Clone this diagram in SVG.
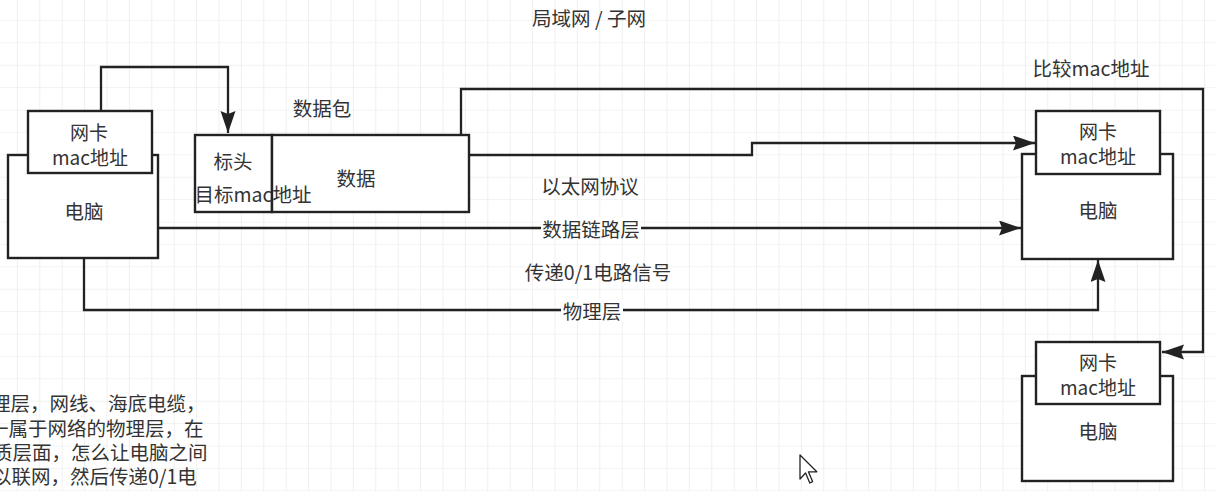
<svg xmlns="http://www.w3.org/2000/svg" width="1215" height="491" viewBox="0 0 1215 491">
<style>
.t{font-family:"Noto Sans CJK SC","Noto Sans",sans-serif;font-size:19.5px;fill:#333;text-anchor:middle;dominant-baseline:central}
.n{font-size:19px}
.tl{font-family:"Noto Sans CJK SC","Noto Sans",sans-serif;font-size:19.5px;fill:#333;dominant-baseline:central}
.box{fill:#fff;stroke:#222;stroke-width:2.4}
.ln{fill:none;stroke:#222;stroke-width:2.3}
</style>
<defs>
<pattern id="grid" x="16.9" y="19.9" width="22.4" height="22.4" patternUnits="userSpaceOnUse">
<path d="M0 0H22.4M0 0V22.4" stroke="#e6e6e6" stroke-width="1.2" fill="none"/>
</pattern>
<marker id="arr" markerUnits="userSpaceOnUse" markerWidth="24" markerHeight="16" refX="22" refY="7.5" orient="auto">
<path d="M0 0L22 7.5L0 15L3 7.5Z" fill="#222"/>
</marker>
</defs>
<rect width="1215" height="491" fill="#fff"/>
<rect width="1215" height="491" fill="url(#grid)"/>

<g id="connectors">
<path class="ln" d="M101 111V67H228V133" marker-end="url(#arr)"/>
<path class="ln" d="M461 135V89H1203V352H1162" marker-end="url(#arr)"/>
<path class="ln" d="M469 155H752V143H1035" marker-end="url(#arr)"/>
<path class="ln" d="M158 228H1021" marker-end="url(#arr)"/>
<path class="ln" d="M84 258V310H1098V260" marker-end="url(#arr)"/>
</g>

<g id="title"><text class="t" x="589" y="17">局域网 / 子网</text></g>

<g id="computer1">
<rect class="box" x="8" y="155" width="150" height="103"/>
<rect class="box" x="28" y="111" width="124" height="62"/>
<text class="t n" x="89" y="131">网卡</text>
<text class="t n" x="90" y="156">mac地址</text>
<text class="t" x="84" y="210">电脑</text>
</g>

<g id="packet">
<text class="t" x="322" y="107">数据包</text>
<rect class="box" x="195" y="135" width="77" height="77"/>
<rect class="box" x="272" y="135" width="197" height="77"/>
<text class="t" x="233" y="160">标头</text>
<text class="t" x="356" y="177">数据</text>
<text class="t" x="253" y="193">目标mac地址</text>
</g>

<g id="computer2">
<text class="t" x="1091" y="67">比较mac地址</text>
<rect class="box" x="1022" y="154" width="151" height="105"/>
<rect class="box" x="1036" y="111" width="124" height="63"/>
<text class="t n" x="1098" y="130">网卡</text>
<text class="t n" x="1098" y="155">mac地址</text>
<text class="t" x="1098" y="209">电脑</text>
</g>

<g id="computer3">
<rect class="box" x="1022" y="376" width="151" height="105"/>
<rect class="box" x="1036" y="342" width="124" height="62"/>
<text class="t n" x="1098" y="361">网卡</text>
<text class="t n" x="1098" y="386">mac地址</text>
<text class="t" x="1098" y="430">电脑</text>
</g>

<g id="labels">
<text class="t" x="590" y="185">以太网协议</text>
<rect x="541" y="217" width="100" height="22" fill="#fff"/>
<text class="t" x="591" y="228">数据链路层</text>
<text class="t" x="598" y="271">传递0/1电路信号</text>
<rect x="561" y="299" width="62" height="22" fill="#fff"/>
<text class="t" x="592" y="310">物理层</text>
</g>

<g id="note">
<text class="tl" x="-9" y="402">理层，网线、海底电缆，</text>
<text class="tl" x="-11" y="427">一属于网络的物理层，在</text>
<text class="tl" x="-7" y="451">质层面，怎么让电脑之间</text>
<text class="tl" x="-8" y="475">以联网，然后传递0/1电</text>
</g>

<g id="cursor">
<path d="M800 455V479L805.6 473L809.8 483L812.6 481.6L808.4 471.8H816.8Z" fill="#fff" stroke="#222" stroke-width="1.3" stroke-linejoin="round"/>
</g>
</svg>
